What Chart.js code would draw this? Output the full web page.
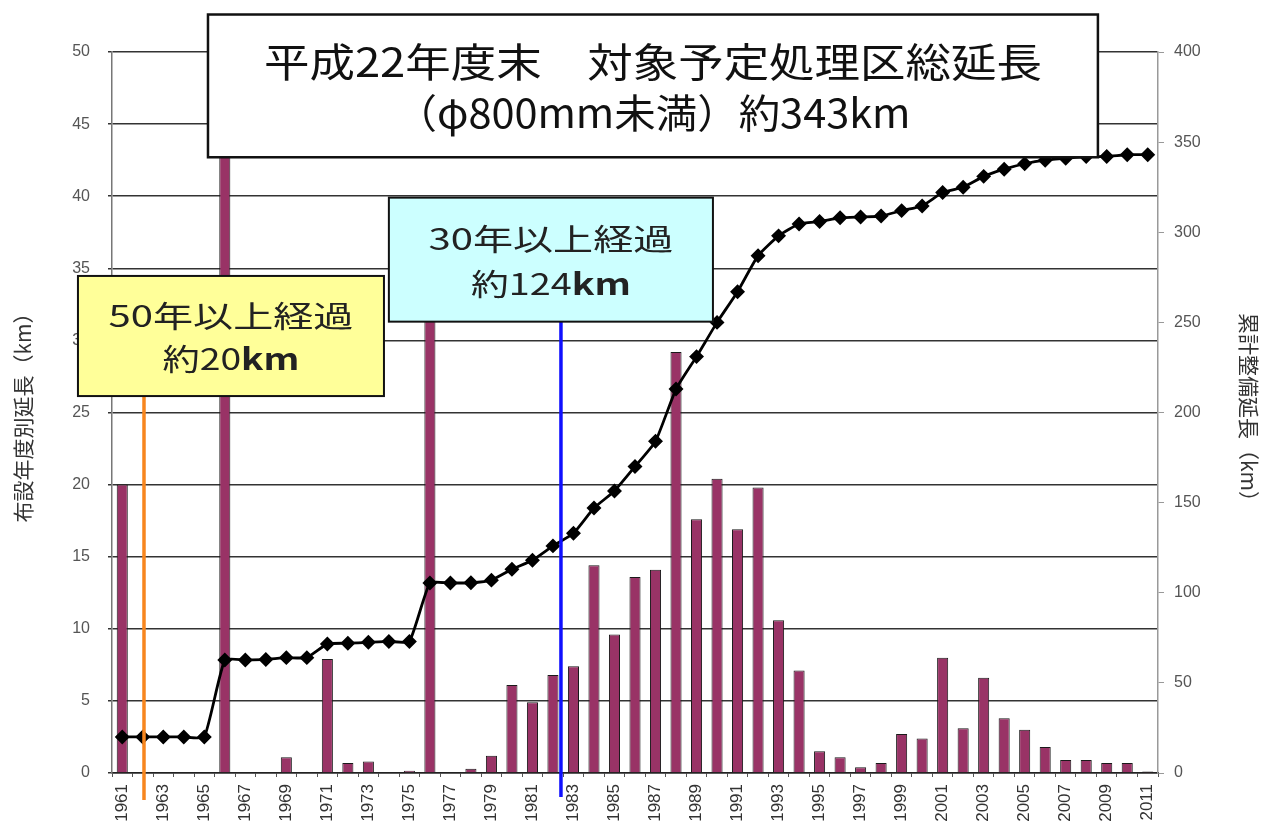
<!DOCTYPE html>
<html>
<head>
<meta charset="utf-8">
<script src="https://cdn.jsdelivr.net/npm/chart.js@4"></script>
<style>
  html, body { margin: 0; padding: 0; background: #fff; }
  #wrap { width: 1264px; height: 829px; }
</style>
</head>
<body>
<div id="wrap"><canvas id="myChart" width="1264" height="829"></canvas></div>
<script>
// fiscal years (categories)
const years = ['1961','1962','1963','1964','1965','1966','1967','1968','1969','1970',
  '1971','1972','1973','1974','1975','1976','1977','1978','1979','1980',
  '1981','1982','1983','1984','1985','1986','1987','1988','1989','1990',
  '1991','1992','1993','1994','1995','1996','1997','1998','1999','2000',
  '2001','2002','2003','2004','2005','2006','2007','2008','2009','2010','2011'];

// length laid per year (km), left axis
const annualKm = [20.0, 0, 0, 0, 0, 43.0, 0, 0, 1.1, 0,
  7.9, 0.7, 0.8, 0, 0.15, 32.0, 0, 0.3, 1.2, 6.1,
  4.9, 6.8, 7.4, 14.4, 9.6, 13.6, 14.1, 29.2, 17.6, 20.4,
  16.9, 19.8, 10.6, 7.1, 1.5, 1.1, 0.4, 0.7, 2.7, 2.4,
  8.0, 3.1, 6.6, 3.8, 3.0, 1.8, 0.9, 0.9, 0.7, 0.7, 0.1];

// cumulative length (km), right axis
const cumulativeKm = [20, 20, 20, 20, 20, 62.7, 62.7, 63, 64, 64,
  71.6, 72, 72.5, 73, 73, 105.4, 105.4, 105.5, 107, 113,
  118, 126, 133, 147, 156.5, 170, 184, 213, 231, 250,
  267, 287, 298, 304.6, 306, 308, 308.5, 309, 312, 314.6,
  322, 325, 331, 335, 338, 340, 341, 342, 342, 343, 343];

const leftTicks = { min: 0, max: 50, step: 5 };
const rightTicks = { min: 0, max: 400, step: 50 };

const jpFont = '"Noto Sans CJK JP", "Noto Sans", sans-serif';
const numFont = '"Liberation Sans", Arial, sans-serif';

// annotation boxes, placed in category-index / left-axis units
const boxes = [
  { x0: 4.18, x1: 47.57, y0: 52.6, y1: 42.7, fill: '#ffffff', lw: 2.5,
    lines: [[['平成22年度末　対象予定処理区総延長', false]], [['（φ800mm未満）約343km', false]]],
    size: 40, width: [778, 515], color: '#111' },
  { x0: -2.16, x1: 12.76, y0: 34.47, y1: 26.14, fill: '#ffff99', lw: 2,
    lines: [[['50年以上経過', false]], [['約20', false], ['km', true]]],
    size: 30, width: [245, 137], color: '#222' },
  { x0: 13.0, x1: 28.8, y0: 39.9, y1: 31.3, fill: '#ccffff', lw: 2,
    lines: [[['30年以上経過', false]], [['約124', false], ['km', true]]],
    size: 30, width: [245, 160], color: '#222' }
];

const markers = [
  { x: 1.06, top: 26.14, bottom: -1.87, color: '#f7861e' },
  { x: 21.39, top: 31.3, bottom: -1.66, color: '#1010ff' }
];

const overlay = {
  id: 'overlay',
  afterDraw(chart) {
    const ctx = chart.ctx;
    const xs = chart.scales.x, ys = chart.scales.y;
    const step = xs.getPixelForValue(1) - xs.getPixelForValue(0);
    const px = v => xs.getPixelForValue(0) + v * step;

    markers.forEach(m => {
      ctx.save();
      ctx.strokeStyle = m.color;
      ctx.lineWidth = 3.5;
      ctx.beginPath();
      ctx.moveTo(px(m.x), ys.getPixelForValue(m.top));
      ctx.lineTo(px(m.x), ys.getPixelForValue(m.bottom));
      ctx.stroke();
      ctx.restore();
    });

    boxes.forEach(b => {
      const l = px(b.x0), r = px(b.x1);
      const t = ys.getPixelForValue(b.y0), btm = ys.getPixelForValue(b.y1);
      ctx.save();
      ctx.fillStyle = b.fill;
      ctx.fillRect(l, t, r - l, btm - t);
      ctx.strokeStyle = '#111';
      ctx.lineWidth = b.lw;
      ctx.strokeRect(l, t, r - l, btm - t);

      const cx = (l + r) / 2;
      const h = btm - t;
      b.lines.forEach((parts, i) => {
        const cy = t + h * (i === 0 ? 0.33 : 0.69);
        let total = 0;
        parts.forEach(p => {
          ctx.font = (p[1] ? 'bold ' : '') + b.size + 'px ' + jpFont;
          total += ctx.measureText(p[0]).width;
        });
        const sx = b.width[i] / total;
        ctx.save();
        ctx.translate(cx - b.width[i] / 2, cy);
        ctx.scale(sx, 1);
        ctx.textBaseline = 'middle';
        ctx.fillStyle = b.color;
        let x = 0;
        parts.forEach(p => {
          ctx.font = (p[1] ? 'bold ' : '') + b.size + 'px ' + jpFont;
          ctx.fillText(p[0], x, 0);
          x += ctx.measureText(p[0]).width;
        });
        ctx.restore();
      });
      ctx.restore();
    });
  }
};

const ctx = document.getElementById('myChart');

new Chart(ctx, {
  data: {
    labels: years,
    datasets: [{
      type: 'line',
      label: '累計整備延長',
      data: cumulativeKm,
      yAxisID: 'y1',
      borderColor: '#000',
      borderWidth: 2.8,
      pointStyle: 'rectRot',
      pointRadius: 5.5,
      pointBackgroundColor: '#000',
      pointBorderColor: '#000',
      tension: 0.15,
      order: 0
    }, {
      type: 'bar',
      label: '布設年度別延長',
      data: annualKm,
      yAxisID: 'y',
      backgroundColor: '#993366',
      borderColor: '#1a1a1a',
      borderWidth: 1,
      barPercentage: 0.54,
      categoryPercentage: 1,
      order: 1
    }]
  },
  options: {
    responsive: false,
    animation: false,
    layout: { padding: { top: 52, left: 0, right: 0, bottom: 0 } },
    plugins: {
      legend: { display: false },
      tooltip: { enabled: false }
    },
    scales: {
      x: {
        offset: true,
        grid: { display: true, drawOnChartArea: false, offset: true, tickLength: 4, color: '#555' },
        border: { color: '#222', width: 1.5 },
        ticks: {
          autoSkip: false,
          minRotation: 90,
          maxRotation: 90,
          padding: 7,
          color: '#333',
          font: { family: numFont, size: 17 },
          callback: function (val, idx) { return idx % 2 === 0 ? this.getLabelForValue(val) : ''; }
        },
        afterFit: s => { s.height = 56; }
      },
      y: {
        position: 'left',
        min: leftTicks.min,
        max: leftTicks.max,
        ticks: { stepSize: leftTicks.step, color: '#555', padding: 18, font: { family: numFont, size: 16 } },
        grid: { color: '#333', lineWidth: 1.5, tickLength: 4 },
        border: { color: '#777', width: 1.5 },
        title: {
          display: true,
          text: '布設年度別延長（km）',
          color: '#333',
          padding: { top: 10, bottom: 4 },
          font: { family: jpFont, size: 21 }
        },
        afterFit: s => { s.width = 112; }
      },
      y1: {
        position: 'right',
        min: rightTicks.min,
        max: rightTicks.max,
        ticks: { stepSize: rightTicks.step, color: '#555', padding: 10, font: { family: numFont, size: 16 } },
        grid: { drawOnChartArea: false, color: '#999', tickLength: 6 },
        border: { color: '#999', width: 1.5 },
        title: {
          display: true,
          text: '累計整備延長（km）',
          color: '#333',
          padding: { top: 2, bottom: 4 },
          font: { family: jpFont, size: 21 }
        },
        afterFit: s => { s.width = 106; }
      }
    }
  },
  plugins: [overlay]
});
</script>
</body>
</html>
